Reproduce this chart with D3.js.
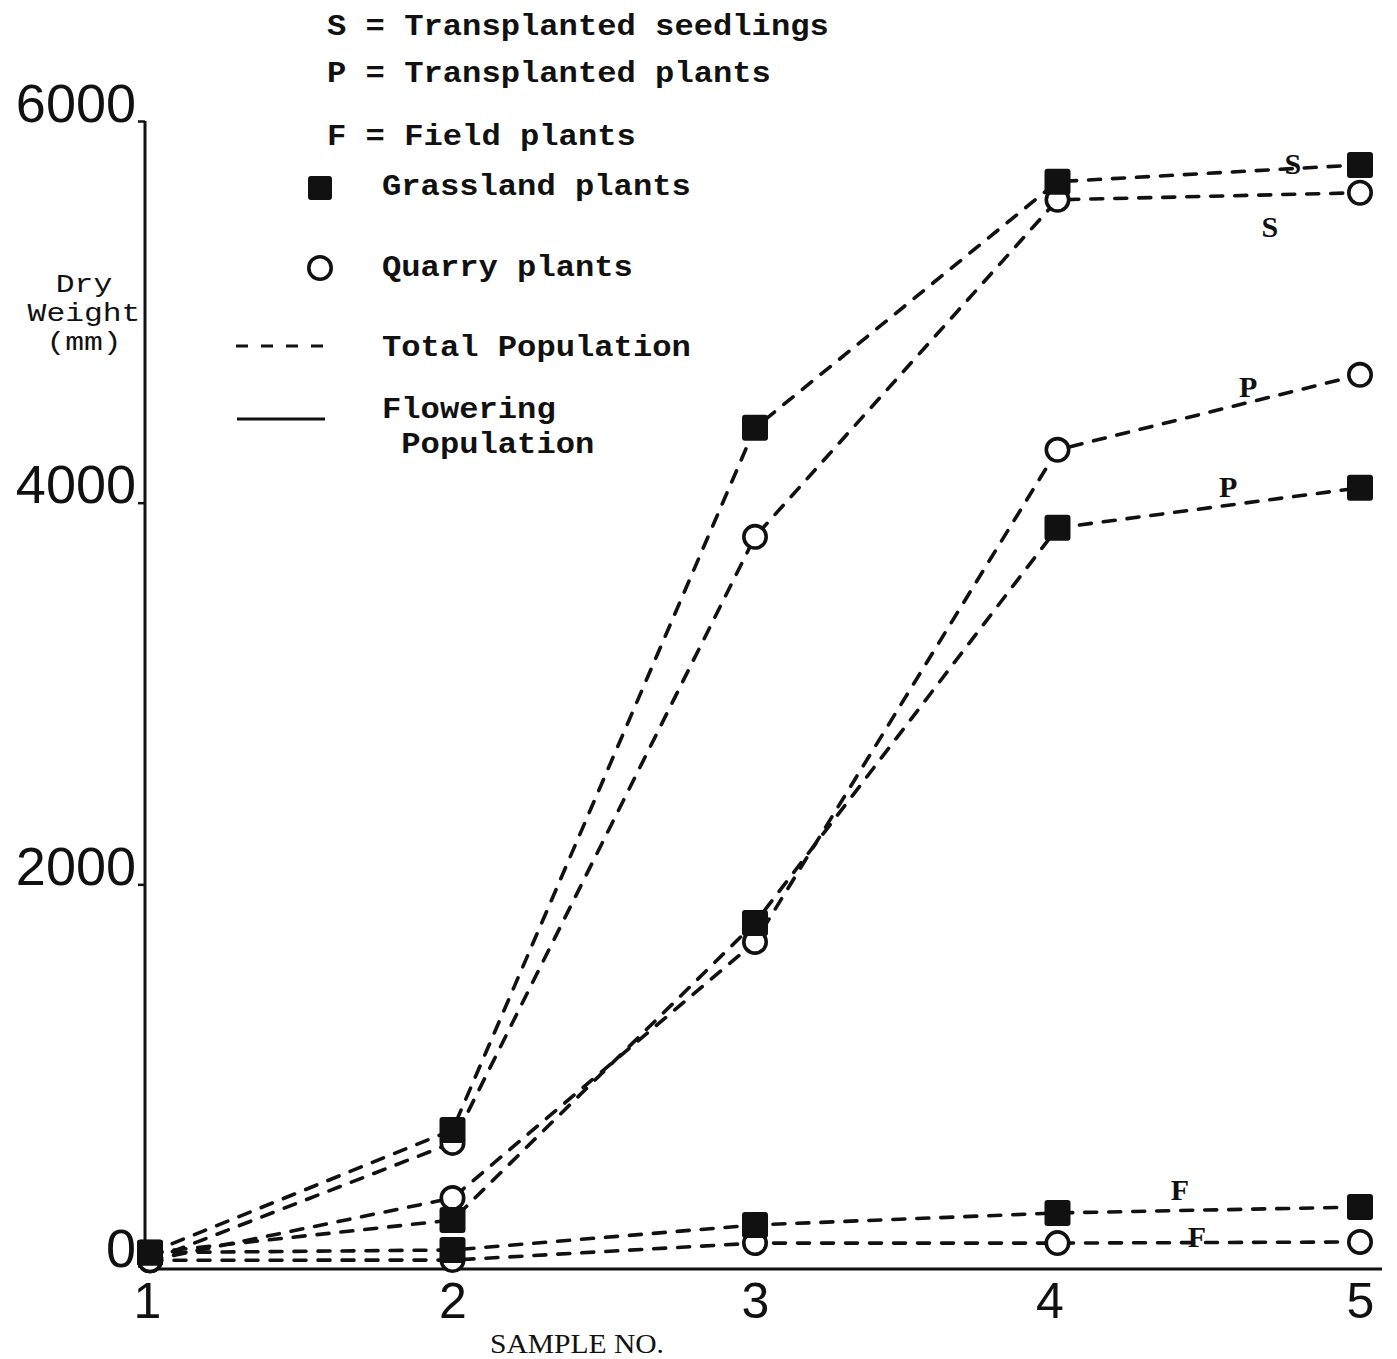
<!DOCTYPE html>
<html>
<head>
<meta charset="utf-8">
<script src="https://cdn.jsdelivr.net/npm/d3@7"></script>
<style>
  html, body { margin: 0; padding: 0; background: #fff; }
  svg { display: block; }
</style>
</head>
<body>
<svg id="chart" width="1397" height="1359"></svg>
<script>
// ---------------- data ----------------
const samples = [1, 2, 3, 4, 5];
const yTicks = [0, 2000, 4000, 6000];

// S = transplanted seedlings, P = transplanted plants, F = field plants
const sGrassland = [70, 713, 4392, 5682, 5770];
const sQuarry    = [30, 645, 3821, 5587, 5624];
const pGrassland = [70, 241, 1798, 3868, 4078];
const pQuarry    = [30, 356, 1698, 4277, 4670];
const fGrassland = [70, 84, 215, 278, 309];
const fQuarry    = [30, 31, 120, 120, 126];

const seriesNames  = ["S grassland", "S quarry", "P grassland", "P quarry", "F grassland", "F quarry"];
const seriesValues = [sGrassland, sQuarry, pGrassland, pQuarry, fGrassland, fQuarry];
const seriesMarker = ["square", "circle", "square", "circle", "square", "circle"];

const legendKeys = ["S = Transplanted seedlings", "P = Transplanted plants", "F = Field plants"];
const legendMarks = ["Grassland plants", "Quarry plants", "Total Population"];
const legendFlowering = ["Flowering", " Population"];
const yTitleLines = ["Dry", "Weight", "(mm)"];

// series letters near line ends: [letter, sample position, value]
const seriesLetters = [["S", 4.778, 5723], ["S", 4.702, 5393], ["P", 4.63, 4555], ["P", 4.564, 4030], ["F", 4.405, 346], ["F", 4.461, 100]];

// ---------------- drawing ----------------
const svg = d3.select("#chart");
const x = d3.scaleLinear().domain([1, 5]).range([150, 1360]);
const y = d3.scaleLinear().domain([0, 6000]).range([1266, 121]);

const ink = "#111";
const mono = "'Liberation Mono', 'DejaVu Sans Mono', monospace";
const sans = "'Liberation Sans', Arial, sans-serif";
const charW = 19.3;

// axes lines
svg.append("line").attr("x1", 145).attr("x2", 145).attr("y1", y(6000)).attr("y2", 1269)
  .attr("stroke", ink).attr("stroke-width", 3);
svg.append("line").attr("x1", 144).attr("x2", 1382).attr("y1", 1269).attr("y2", 1269)
  .attr("stroke", ink).attr("stroke-width", 3);

// y axis
const yAxis = svg.append("g").attr("transform", "translate(145,0)")
  .call(d3.axisLeft(y).tickValues(yTicks).tickFormat(d3.format("d")).tickSizeInner(7).tickSizeOuter(0));
yAxis.select(".domain").remove();
yAxis.selectAll(".tick line").attr("stroke", ink).attr("stroke-width", 2.5);
yAxis.selectAll(".tick text").attr("x", -9).attr("dy", "0")
  .attr("fill", ink).style("font-family", sans).style("font-size", "54px").style("font-weight", "normal");

// x axis
const xAxis = svg.append("g").attr("transform", "translate(0,1269)")
  .call(d3.axisBottom(x).tickValues(samples).tickFormat(d3.format("d")).tickSize(0));
xAxis.select(".domain").remove();
xAxis.selectAll(".tick text").attr("y", 49).attr("dy", "0")
  .attr("fill", ink).style("font-family", sans).style("font-size", "50px");
xAxis.selectAll(".tick text").filter(d => d === 1).attr("dx", -3);
xAxis.selectAll(".tick text").filter(d => d === 4).attr("dx", -8);

// axis titles
svg.append("text").attr("x", 577).attr("y", 1353).attr("text-anchor", "middle")
  .attr("textLength", 174).attr("lengthAdjust", "spacingAndGlyphs")
  .style("font-family", "'Liberation Serif', serif").style("font-size", "28px").attr("fill", ink)
  .text("SAMPLE NO.");
svg.append("g").selectAll("text").data(yTitleLines).join("text")
  .attr("x", 84).attr("y", (d, i) => 292 + i * 29).attr("text-anchor", "middle")
  .attr("textLength", d => d.length * 18.8).attr("lengthAdjust", "spacingAndGlyphs")
  .attr("fill", ink).style("font-family", mono).style("font-size", "25px").text(d => d);

// lines
const line = d3.line().x((d, i) => x(samples[i])).y(d => y(d));
const gLines = svg.append("g");
seriesValues.forEach((vals, k) => {
  gLines.append("path").datum(vals).attr("d", line)
    .attr("fill", "none").attr("stroke", ink).attr("stroke-width", 3.6)
    .attr("stroke-dasharray", "12 12").attr("stroke-linecap", "round")
    .attr("class", "series").attr("data-name", seriesNames[k]);
});

// markers
const gMarks = svg.append("g");
function drawMarker(g, type, cx, cy, size) {
  if (type === "square") {
    g.append("rect").attr("x", cx - size / 2).attr("y", cy - size / 2)
      .attr("width", size).attr("height", size).attr("rx", 3)
      .attr("fill", ink);
  } else {
    g.append("circle").attr("cx", cx).attr("cy", cy).attr("r", size / 2 - 1.8)
      .attr("fill", "#fff").attr("stroke", ink).attr("stroke-width", 3.6);
  }
}
[5, 4, 3, 2, 1, 0].forEach(k => {
  seriesValues[k].forEach((v, i) => drawMarker(gMarks, seriesMarker[k], x(samples[i]), y(v), 26));
});

// series letters
svg.append("g").selectAll("text").data(seriesLetters).join("text")
  .attr("x", d => x(d[1])).attr("y", d => y(d[2])).attr("text-anchor", "middle")
  .style("font-family", "'Liberation Serif', serif").style("font-weight", "bold").style("font-size", "30px")
  .attr("fill", ink).text(d => d[0]);

// legend
const lg = svg.append("g");
function legendText(t, xx, yy) {
  lg.append("text").attr("x", xx).attr("y", yy).attr("fill", ink)
    .attr("xml:space", "preserve")
    .attr("textLength", t.length * charW).attr("lengthAdjust", "spacingAndGlyphs")
    .style("font-family", mono).style("font-weight", "bold").style("font-size", "30px").text(t);
}
const keyY = [35, 82, 145];
legendKeys.forEach((t, i) => legendText(t, 327, keyY[i]));
const markY = [195, 276, 356];
legendMarks.forEach((t, i) => legendText(t, 382, markY[i]));
drawMarker(lg, "square", 320, 188, 24);
drawMarker(lg, "circle", 320, 268, 26);
lg.append("line").attr("x1", 236).attr("x2", 330).attr("y1", 346).attr("y2", 346)
  .attr("stroke", ink).attr("stroke-width", 3.2).attr("stroke-dasharray", "12 13");
lg.append("line").attr("x1", 237).attr("x2", 325).attr("y1", 419).attr("y2", 419)
  .attr("stroke", ink).attr("stroke-width", 3);
legendText(legendFlowering[0], 382, 418);
legendText(legendFlowering[1], 382, 453);
</script>
</body>
</html>
